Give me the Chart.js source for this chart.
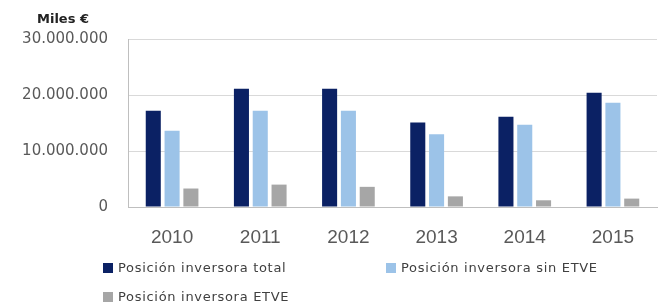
<!DOCTYPE html>
<html>
<head>
<meta charset="utf-8">
<script src="https://cdn.jsdelivr.net/npm/chart.js@4.4.0/dist/chart.umd.min.js"></script>
<style>
    html, body { margin: 0; padding: 0; background: #fff; }
    #wrap { position: relative; width: 663px; height: 306px; }
    #unit {
        position: absolute; left: 37px; top: 11px;
        font: bold 13px "DejaVu Sans", sans-serif; color: #222;
    }
    .legend-item {
        position: absolute; display: flex; align-items: center;
        font: 13px "DejaVu Sans", sans-serif; color: #404040;
        letter-spacing: 0.7px; white-space: nowrap;
    }
    .legend-box { width: 10px; height: 10px; margin-right: 5px; }
</style>
</head>
<body>
<div id="wrap">
    <canvas id="chart" width="663" height="306"></canvas>
    <div id="unit">Miles €</div>
    <div id="legend"></div>
</div>
<script>
// Chart data
const years = ['2010', '2011', '2012', '2013', '2014', '2015'];
const totalPosition = [17200000, 21100000, 21100000, 15100000, 16100000, 20400000];
const withoutEtvePosition = [13600000, 17200000, 17200000, 13000000, 14700000, 18600000];
const etvePosition = [3300000, 4000000, 3600000, 1900000, 1200000, 1500000];
const seriesLabels = ['Posición inversora total', 'Posición inversora sin ETVE', 'Posición inversora ETVE'];
const seriesColors = ['#0b2164', '#9cc3e8', '#a6a6a6'];

// Legend positions (left, top) in px
const legendSpots = [[103, 260], [386, 260], [103, 289]];

// Format numbers with dot separators
function formatThousands(value) {
    return String(value).replace(/\B(?=(\d{3})+(?!\d))/g, '.');
}

const ctx = document.getElementById('chart');

new Chart(ctx, {
    type: 'bar',
    data: {
        labels: years,
        datasets: [totalPosition, withoutEtvePosition, etvePosition].map((data, i) => ({
            label: seriesLabels[i],
            data: data,
            backgroundColor: seriesColors[i],
            categoryPercentage: 0.64,
            barPercentage: 0.8
        }))
    },
    options: {
        responsive: false,
        animation: false,
        layout: {
            padding: { left: 0, top: 39, right: 6, bottom: 0 }
        },
        plugins: {
            legend: { display: false },
            tooltip: { enabled: false }
        },
        scales: {
            x: {
                grid: { display: false, drawTicks: false },
                border: { display: true, color: '#bfbfbf' },
                ticks: {
                    padding: 19,
                    color: '#595959',
                    font: { family: 'Liberation Sans', size: 19 }
                },
                afterFit: scale => { scale.height = 99; }
            },
            y: {
                min: 0,
                max: 30000000,
                grid: { color: '#d9d9d9', drawTicks: false },
                border: { display: true, color: '#bfbfbf' },
                ticks: {
                    stepSize: 10000000,
                    padding: 20,
                    color: '#595959',
                    font: { family: 'DejaVu Sans', size: 15 },
                    callback: value => formatThousands(value)
                },
                afterFit: scale => { scale.width = 128; }
            }
        }
    }
});

// Build HTML legend
const legend = document.getElementById('legend');
legend.innerHTML = seriesLabels.map((label, i) => `
    <div class="legend-item" style="left:${legendSpots[i][0]}px;top:${legendSpots[i][1]}px">
        <span class="legend-box" style="background:${seriesColors[i]}"></span>${label}
    </div>
`).join('');
</script>
</body>
</html>
